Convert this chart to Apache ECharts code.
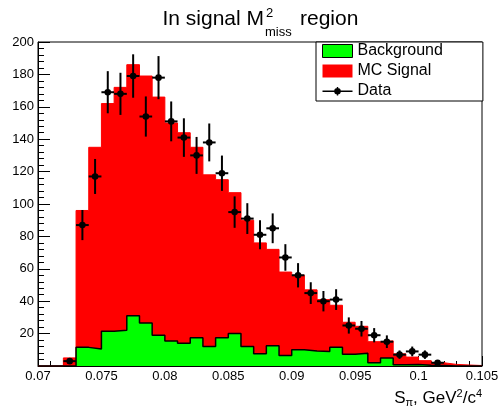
<!DOCTYPE html>
<html><head><meta charset="utf-8">
<script src="https://cdn.jsdelivr.net/npm/echarts@6/dist/echarts.min.js"></script>
<style>html,body{margin:0;padding:0;background:#fff}#c{width:503px;height:408px}</style>
</head><body><div id="c"></div>
<script>
// Bin edges (GeV^2/c^4)
const binEdges = [0.070,0.071,0.072,0.073,0.074,0.075,0.076,0.077,0.078,0.079,
  0.080,0.081,0.082,0.083,0.084,0.085,0.086,0.087,0.088,0.089,
  0.090,0.091,0.092,0.093,0.094,0.095,0.096,0.097,0.098,0.099,
  0.100,0.101,0.102,0.103,0.104,0.105];
// MC Signal (stacked top, red)
const mcSignal = [0,0,5,96,135,162,172,186,179,166,
  150,144,135,118,115,107,90,76,72,58,
  56,47,41,37.5,27,24.5,15,15.5,7.5,5.5,
  3.3,2,1,0.6,0.3];
// Background (green)
const background = [0,0,0,11.5,10.5,21.5,22,31,26.5,19,
  15.5,14,17.5,12,17.5,20,12,7.5,12.5,6.5,
  10,9.3,9,11.5,7.2,7.8,2,5,0.8,1,
  0.5,0.3,0,0,0];
// Data counts and errors (null = empty bin)
const dataCounts = [null,null,3,87,117,169,168,179,154,178,
  151,141,130,138,119,95,91,81,85,67,
  56,45,40,41,25,23,19,15,7,9,
  7,2,null,null,null];
const dataErrors = [0,0,1.7,9.3,10.8,13,13,13.4,12.4,13.3,
  12.3,11.9,11.4,11.7,10.9,9.7,9.5,9,9.2,8.2,
  7.5,6.7,6.3,6.4,5,4.8,4.4,3.9,2.6,3,
  2.6,1.4,0,0,0];

function stepData(vals){
  const out = vals.map((v,i)=>[binEdges[i], v]);
  out.push([binEdges[binEdges.length-1], vals[vals.length-1]]);
  return out;
}
const pts = [];
dataCounts.forEach((v,i)=>{
  if (v !== null) pts.push([(binEdges[i]+binEdges[i+1])/2, v, dataErrors[i], (binEdges[i+1]-binEdges[i])/2]);
});

const FONT = 'Liberation Sans, Arial, Helvetica, sans-serif';
const chart = echarts.init(document.getElementById('c'), null, {renderer:'canvas'});
chart.setOption({
  animation:false,
  backgroundColor:'#fff',
  grid:{left:38,right:21,top:42,bottom:42,show:true,borderColor:'#000',borderWidth:1,backgroundColor:'transparent'},
  xAxis:{type:'value',min:0.07,max:0.105,interval:0.005,
    axisLine:{show:true,lineStyle:{color:'#000',width:1}},
    axisTick:{show:true,inside:true,length:10,lineStyle:{color:'#000'}},
    minorTick:{show:true,splitNumber:5,length:5,lineStyle:{color:'#000'}},
    splitLine:{show:false},
    axisLabel:{color:'#000',fontSize:13,fontFamily:FONT,margin:4,showMinLabel:true,showMaxLabel:true}},
  yAxis:{type:'value',min:0,max:200,interval:20,
    axisLine:{show:true,lineStyle:{color:'#000',width:1}},
    axisTick:{show:true,inside:true,length:12,lineStyle:{color:'#000'}},
    minorTick:{show:true,splitNumber:5,length:6,lineStyle:{color:'#000'}},
    splitLine:{show:false},
    axisLabel:{color:'#000',fontSize:13,fontFamily:FONT,margin:4,formatter:v=>v===0?'':String(v)}},
  legend:{orient:'vertical',left:316,top:42,
    borderColor:'#000',borderWidth:1,backgroundColor:'#fff',
    padding:[1,40,2,6],itemWidth:30,itemHeight:13,itemGap:4,
    textStyle:{fontSize:16,lineHeight:16,fontFamily:FONT,color:'#000'},
    selectedMode:false,
    data:[
      {name:'Background',icon:'rect',itemStyle:{color:'#00ff00',borderColor:'#000',borderWidth:1}},
      {name:'MC Signal',icon:'rect',itemStyle:{color:'#ff0000',borderWidth:0}},
      {name:'Data',icon:'path://M0,0h0.01v0.01h-0.01z M29.99,12.99h0.01v0.01h-0.01z M0,6h30v1.4H0z M14.3,2.5h1.4v8.4H14.3z M18.3,6.7a3.3,3.3 0 1,1 -6.6,0a3.3,3.3 0 1,1 6.6,0z',itemStyle:{color:'#000'}}
    ]},
  series:[
    {name:'MC Signal',type:'line',step:'end',showSymbol:false,z:2,
      data:stepData(mcSignal),
      itemStyle:{color:'#ff0000'},
      lineStyle:{color:'#ff0000',width:1},
      areaStyle:{color:'#ff0000',opacity:1}},
    {name:'Background',type:'line',step:'end',showSymbol:false,z:3,
      data:stepData(background),
      itemStyle:{color:'#00ff00',borderColor:'#000',borderWidth:1},
      lineStyle:{color:'#000',width:1.5},
      areaStyle:{color:'#00ff00',opacity:1}},
    {name:'Data',type:'custom',z:4,
      itemStyle:{color:'#000'},
      data:pts,
      renderItem:function(params,api){
        const x=api.value(0), y=api.value(1), e=api.value(2), hw=api.value(3);
        const c=api.coord([x,y]);
        const t=api.coord([x,y+e]);
        const b=api.coord([x,Math.max(0,y-e)]);
        const l=api.coord([x-hw,y]);
        const r=api.coord([x+hw,y]);
        const st={stroke:'#000',lineWidth:2};
        return {type:'group',children:[
          {type:'line',shape:{x1:c[0],y1:t[1],x2:c[0],y2:b[1]},style:st},
          {type:'line',shape:{x1:l[0],y1:c[1],x2:r[0],y2:c[1]},style:st},
          {type:'circle',shape:{cx:c[0],cy:c[1],r:3.3},style:{fill:'#000'}}
        ]};
      }}
  ],
  graphic:[
    {type:'text',x:264,y:19.5,style:{text:'In signal M',font:'21px '+FONT,fill:'#000',align:'right',verticalAlign:'middle'}},
    {type:'text',x:266,y:13.5,style:{text:'2',font:'13px '+FONT,fill:'#000',align:'left',verticalAlign:'middle'}},
    {type:'text',x:265,y:32.5,style:{text:'miss',font:'13px '+FONT,fill:'#000',align:'left',verticalAlign:'middle'}},
    {type:'text',x:300,y:19.5,style:{text:'region',font:'21px '+FONT,fill:'#000',align:'left',verticalAlign:'middle'}},
    {type:'text',x:482,y:388,style:{
      text:'{m|S}{s|π}{m|, GeV}{p|2}{m|/c}{p|4}',
      align:'right',verticalAlign:'top',
      rich:{
        m:{fontSize:17,lineHeight:20,fontFamily:FONT,color:'#000',verticalAlign:'middle'},
        s:{fontSize:11,lineHeight:11,fontFamily:FONT,color:'#000',verticalAlign:'bottom'},
        p:{fontSize:11,lineHeight:11,fontFamily:FONT,color:'#000',verticalAlign:'top'}
      }}}
  ]
});
</script>
</body></html>
